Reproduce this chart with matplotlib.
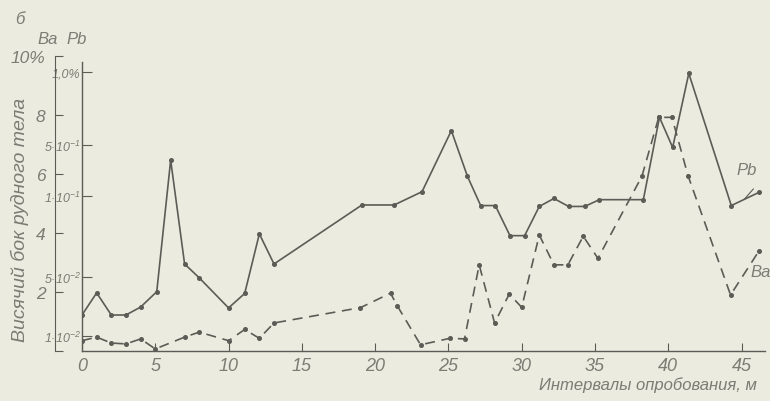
import matplotlib
matplotlib.use("Agg")
import matplotlib.pyplot as plt

# sampling interval position, m
pb_x = [0, 1, 2, 3, 4, 5.1, 6.05, 7, 8, 10, 11.1, 12.1, 13.1, 19.1, 21.3, 23.2,
        25.2, 26.3, 27.2, 28.2, 29.2, 30.2, 31.2, 32.2, 33.2, 34.3, 35.3, 38.3,
        39.4, 40.3, 41.4, 44.3, 46.2]
# Pb curve, read as height on the left (Ba) scale
pb_level = [1.22, 1.97, 1.22, 1.22, 1.49, 2.01, 6.47, 2.95, 2.48, 1.46, 1.95, 3.97,
            2.95, 4.95, 4.95, 5.4, 7.47, 5.92, 4.93, 4.93, 3.91, 3.91, 4.9, 5.17,
            4.9, 4.9, 5.13, 5.13, 7.92, 6.9, 9.41, 4.93, 5.38]

ba_x = [0, 1, 2, 3, 4, 5, 7, 8, 10, 11.1, 12.1, 13.1, 19.0, 21.05, 21.5, 23.1,
        25.1, 26.1, 27.1, 28.15, 29.15, 30.0, 31.2, 32.2, 33.15, 34.2, 35.2, 38.2,
        39.35, 40.25, 41.35, 44.25, 46.2]
ba_pct = [0.35, 0.47, 0.27, 0.24, 0.41, 0.07, 0.47, 0.64, 0.35, 0.73, 0.43, 0.95,
          1.47, 1.96, 1.54, 0.21, 0.43, 0.41, 2.92, 0.95, 1.93, 1.48, 3.93, 2.92,
          2.92, 3.89, 3.14, 5.92, 7.92, 7.92, 5.94, 1.9, 3.4]

x_ticks = [0, 5, 10, 15, 20, 25, 30, 35, 40, 45]
ba_ticks = [0, 2, 4, 6, 8, 10]
ba_labels = ["", "2", "4", "6", "8", "10%"]
pb_ticks = [0.51, 2.51, 5.25, 6.98, 9.46]
pb_labels = ["1·10$^{-2}$", "5·10$^{-2}$", "1·10$^{-1}$", "5·10$^{-1}$", "1,0%"]

paper = "#ecebe0"
ink = "#5c5c56"
text_c = "#7c7c74"

plt.rcParams["font.family"] = ["Liberation Sans", "DejaVu Sans"]
plt.rcParams["font.style"] = "italic"
plt.rcParams["mathtext.fontset"] = "custom"
plt.rcParams["mathtext.it"] = "Liberation Sans:italic"
plt.rcParams["mathtext.rm"] = "Liberation Sans"
plt.rcParams["mathtext.default"] = "it"

fig = plt.figure(figsize=(7.7, 4.02), dpi=100, facecolor=paper)
ax = fig.add_axes([82 / 770, 1 - 352 / 402, 683 / 770, 295 / 402])
ax.set_facecolor(paper)

ax.plot(pb_x, pb_level, color=ink, lw=1.2, marker="o", ms=2.6)
ax.plot(ba_x, ba_pct, color=ink, lw=1.2, ls=(0, (6, 4)), marker="o", ms=2.6)

ax.set_xlim(0, 46.6)
ax.set_ylim(0, 10)
for s in ["top", "right"]:
    ax.spines[s].set_visible(False)
for s in ["left", "bottom"]:
    ax.spines[s].set_color(ink)
    ax.spines[s].set_linewidth(1.0)
ax.spines["left"].set_bounds(0, 9.8)

ax.set_xticks(x_ticks)
ax.set_xticklabels([str(t) for t in x_ticks])
ax.tick_params(axis="x", direction="in", length=6, color=ink, labelcolor=text_c,
               labelsize=13, pad=4)
ax.set_yticks(pb_ticks)
ax.set_yticklabels(pb_labels)
ax.tick_params(axis="y", direction="in", length=7, color=ink, labelcolor=text_c,
               labelsize=9, pad=1)

# outer Ba scale
axb = ax.twinx()
axb.set_ylim(0, 10)
axb.yaxis.set_ticks_position("left")
axb.yaxis.set_label_position("left")
for s in ["top", "right", "bottom"]:
    axb.spines[s].set_visible(False)
axb.spines["left"].set_position(("outward", 19.4))
axb.spines["left"].set_color(ink)
axb.set_yticks(ba_ticks)
axb.set_yticklabels(ba_labels)
axb.tick_params(axis="y", direction="in", length=6, color=ink, labelcolor=text_c,
                labelsize=12.5, pad=7)

ax.set_xlabel("Интервалы опробования, м", color=text_c, fontsize=12)
ax.xaxis.set_label_coords(0.829, -0.085)
fig.text(20 / 770, 1 - 220 / 402, "Висячий бок рудного тела", rotation=90,
         ha="center", va="center", color=text_c, fontsize=14)

fig.text(20 / 770, 1 - 20 / 402, "б", ha="center", va="center", color=text_c, fontsize=12)
fig.text(48 / 770, 1 - 40 / 402, "Ba", ha="center", va="center", color=text_c, fontsize=12)
fig.text(77 / 770, 1 - 40 / 402, "Pb", ha="center", va="center", color=text_c, fontsize=12)

ax.text(45.33, 6.14, "Pb", color=text_c, fontsize=12, ha="center", va="center")
ax.plot([45.8, 45.2], [5.49, 5.15], color=ink, lw=0.8)
ax.text(46.3, 2.71, "Ba", color=text_c, fontsize=12, ha="center", va="center",
        clip_on=False)

fig.savefig("out.png", dpi=100, facecolor=paper)
